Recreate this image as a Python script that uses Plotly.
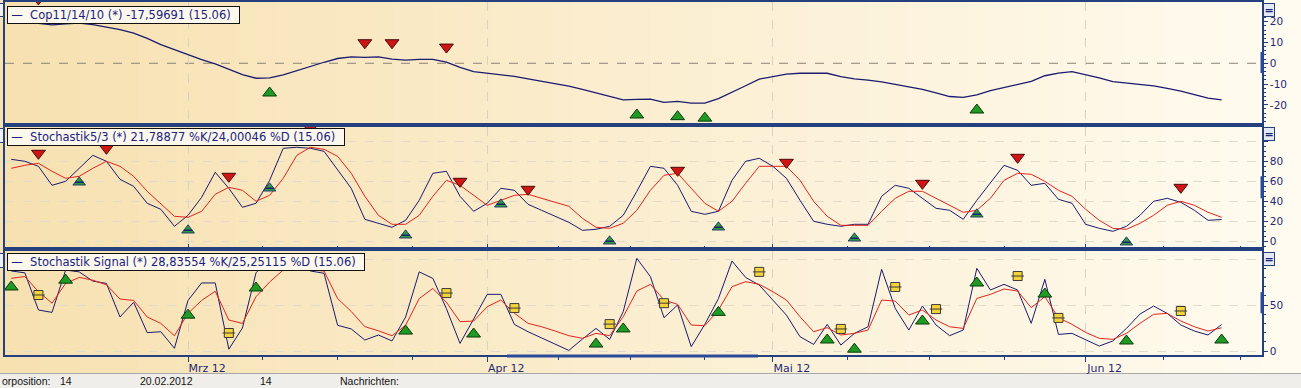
import plotly.graph_objects as go
import pandas as pd

# ---------------- data ----------------
days = pd.bdate_range("2012-02-13", "2012-06-15")  # trading days (x categories)

cop = ([None, None, 19.2, 18.5, 19.0, 19.4, 18.6, 17.5, 16.2, 14.5, 12.0, 9.0, 6.5]
       + [4.0, 1.8, -0.3, -3.0, -5.5, -7.2, -7.0, -5.6, -3.5, -1.4, 0.5, 2.3, 3.1, 2.8, 3.1, 2.0, 1.5, 1.9, 1.9, 0.6, -2.0, -4.0]
       + [-4.8, -5.7, -6.3, -7.5, -8.6, -9.7, -11.0, -12.6, -14.2, -16.0, -17.6, -17.4, -17.3, -18.8, -18.3, -19.2, -19.2, -17.0, -14.0, -10.8, -7.6]
       + [-6.5, -5.2, -4.8, -4.8, -4.8, -6.4, -7.5, -8.1, -8.9, -10.1, -11.3, -12.6, -14.3, -16.0, -16.4, -15.2, -13.2, -11.6, -10.3, -8.7, -6.0, -4.7, -4.0]
       + [-5.4, -7.0, -8.8, -9.6, -10.3, -10.9, -12.1, -13.4, -15.1, -16.8, -17.6])

stoch_k = ([82, 80, 75, 56, 60, 73, 86, 80, 62, 55, 38, 32, 15]
           + [26, 44, 69, 53, 34, 38, 61, 93, 94, 93, 90, 71, 53, 22, 18, 14, 21, 41, 68, 70, 45, 30]
           + [38, 53, 51, 37, 31, 25, 19, 11, 12, 15, 26, 50, 75, 73, 56, 30, 27, 30, 61, 80, 83]
           + [75, 63, 41, 20, 17, 15, 17, 17, 45, 56, 53, 43, 33, 31, 22, 41, 58, 76, 71, 56, 58, 42, 38]
           + [17, 13, 10, 15, 26, 40, 43, 39, 31, 21, 21.8])

stoch_d = ([73, 76, 78, 70, 63, 65, 73, 80, 75, 65, 50, 38, 25]
           + [24, 30, 47, 54, 51, 40, 46, 63, 86, 94, 92, 85, 68, 45, 26, 17, 17, 26, 45, 61, 56, 46]
           + [36, 41, 46, 47, 43, 39, 35, 23, 14, 13, 18, 31, 51, 66, 68, 53, 38, 30, 40, 58, 75]
           + [75, 75, 61, 40, 25, 16, 16, 16, 30, 43, 50, 50, 43, 36, 29, 31, 43, 61, 68, 67, 60, 51, 45]
           + [32, 21, 13, 12, 18, 26, 36, 40, 36, 29, 24.0])

signal_k = ([87, 85, 44.6, 42, 88, 86, 76, 73.5, 37, 53, 20, 21, 3]
            + [55, 74, 74, 2, 25, 85, 100, 100, 97, 87, 84.5, 28, 24, 12, 17.4, 11, 37, 86, 79, 46, 8.3, 34.8]
            + [61.6, 61.6, 28.9, 21, 14.5, 7.2, 0.7, 13, 24.6, 12.7, 42.8, 100.7, 80.8, 36.2, 50, 4.7, 29, 57, 97.8, 80, 71.7]
            + [55.4, 39, 15.6, 7.2, 29, 6.5, 19.2, 26.4, 88.8, 46.4, 22.8, 48.9, 28.3, 16.7, 22.8, 89.9, 66.3, 72.5, 66.3, 30.1, 77.9, 18.1, 19.2]
            + [12, 5.4, 10.9, 24.6, 40.2, 48.9, 40.9, 28.3, 21.7, 17.4, 28.8])

signal_d = ([79, 81, 64.5, 52, 73.5, 80, 77, 72, 56.5, 55, 37, 30, 16.6]
            + [41, 55, 65, 33.7, 30, 59, 75, 88, 95, 88, 87, 57, 43, 26.5, 22, 16.6, 28, 57, 68, 53, 31.9, 32.6]
            + [48.2, 55.4, 41, 30.1, 26.4, 21.7, 16.7, 13.8, 19.2, 16.7, 37.3, 65.2, 72.5, 55.4, 50.7, 28.3, 27.5, 44.6, 69.9, 75.4, 72.5]
            + [64.5, 55.4, 37.3, 21, 25.4, 17.4, 19.2, 22.8, 55.4, 54.3, 39.1, 44.6, 33.7, 26.4, 24.6, 57.2, 61.6, 67.4, 65.2, 47.1, 59.1, 36.2, 29]
            + [20.3, 13.8, 12.7, 19.2, 30.1, 39.9, 40.9, 32.6, 26.4, 21.7, 25.3])

cop_buy_dates = ["2012-03-09", "2012-04-17", "2012-04-20", "2012-04-24", "2012-05-22"]
cop_buy_vals = [-14.3, -24.9, -25.7, -26.4, -22.5]
cop_sell_dates = ["2012-02-15", "2012-03-20", "2012-03-22", "2012-03-28"]
cop_sell_vals = [31.0, 9.9, 9.9, 7.8]

stoch_sell_dates = ["2012-02-15", "2012-02-22", "2012-03-06", "2012-03-14", "2012-03-29", "2012-04-05",
                    "2012-04-20", "2012-05-02", "2012-05-16", "2012-05-25", "2012-06-12"]
stoch_sell_vals = [88, 93, 65, 113, 60, 52, 71, 79, 58, 84, 54]
stoch_buy_dates = ["2012-02-20", "2012-03-01", "2012-03-09", "2012-03-23", "2012-04-03", "2012-04-13",
                   "2012-04-25", "2012-05-09", "2012-05-22", "2012-06-06"]
stoch_buy_vals = [59, 11, 53, 6, 37, 0, 14, 3, 27, -1]

signal_buy_dates = ["2012-02-13", "2012-02-17", "2012-03-01", "2012-03-08", "2012-03-23", "2012-03-30",
                    "2012-04-12", "2012-04-16", "2012-04-25", "2012-05-07", "2012-05-09", "2012-05-16",
                    "2012-05-22", "2012-05-29", "2012-06-06", "2012-06-15"]
signal_buy_vals = [69.6, 77, 39, 68.5, 21.7, 18.5, 7.6, 24, 42, 12, 2, 32.6, 73.9, 61.9, 10.9, 12]
signal_flat_dates = ["2012-02-15", "2012-03-06", "2012-03-28", "2012-04-04", "2012-04-13", "2012-04-19",
                     "2012-04-30", "2012-05-08", "2012-05-14", "2012-05-17", "2012-05-25", "2012-05-30",
                     "2012-06-12"]
signal_flat_vals = [60.9, 19.6, 63, 46.7, 29.3, 52, 86, 24, 69.6, 45.6, 81.5, 36, 43.5]

month_ticks = ["2012-03-01", "2012-04-02", "2012-05-01", "2012-06-01"]
month_labels = ["Mrz 12", "Apr 12", "Mai 12", "Jun 12"]
week_ticks = ["2012-03-08 12:00", "2012-03-16", "2012-03-23 12:00", "2012-04-09 06:00", "2012-04-16 12:00",
              "2012-04-24", "2012-05-08 12:00", "2012-05-16 12:00", "2012-05-24", "2012-06-08 18:00",
              "2012-06-18 10:00"]

cop_ticks = [-20, -10, 0, 10, 20]
cop_labels = ["-20", "-10", "0", "10", "20"]
stoch_ticks = [0, 20, 40, 60, 80, 100]
stoch_labels = ["0", "20", "40", "60", "80", ""]
signal_ticks = [0, 50, 100]
signal_labels = ["0", "50", ""]

legend1 = "Cop11/14/10 (*) -17,59691 (15.06)"
legend2 = "Stochastik5/3 (*) 21,78877 %K/24,00046 %D (15.06)"
legend3 = "Stochastik Signal (*) 28,83554 %K/25,25115 %D (15.06)"

# ---------------- layout helpers ----------------
W, H = 1301, 388
L, R, T, B = 5, 39, 2, 33


def px_x(px):
    return (px - L) / (W - L - R)


def px_y(py):
    return (H - B - py) / (H - T - B)


NAVY = "#1B1B70"
RED = "#E3241C"
AXC = "#25407F"
TXT = "#1E2A78"
FONT = "DejaVu Sans"

fig = go.Figure()


def add_line(y, color, yaxis, width=1.0):
    fig.add_trace(go.Scatter(x=days, y=y, mode="lines", xaxis="x", yaxis=yaxis,
                             line=dict(color=color, width=width), hoverinfo="skip"))


def add_marks(x, y, yaxis, symbol, size, color, lcolor, lwidth):
    fig.add_trace(go.Scatter(x=x, y=y, mode="markers", xaxis="x", yaxis=yaxis,
                             marker=dict(symbol=symbol, size=size, color=color,
                                         line=dict(color=lcolor, width=lwidth)),
                             hoverinfo="skip"))


add_line(cop, NAVY, "y", 1.3)
add_line(stoch_k, NAVY, "y2")
add_line(stoch_d, RED, "y2")
add_line(signal_k, NAVY, "y3")
add_line(signal_d, RED, "y3")

# panel 1 signals
add_marks(cop_buy_dates, cop_buy_vals, "y", "triangle-up", 12, "#1F9A24", "#0B3A0B", 1)
add_marks(cop_sell_dates, cop_sell_vals, "y", "triangle-down", 12, "#D01515", "#4A0808", 1)
# panel 2 signals
add_marks(stoch_sell_dates, stoch_sell_vals, "y2", "triangle-down", 12, "#D01515", "#4A0808", 1)
add_marks(stoch_buy_dates, stoch_buy_vals, "y2", "triangle-up", 11, "#2F9A3A", "#1A2372", 0.8)
add_marks(stoch_buy_dates, stoch_buy_vals, "y2", "line-ew", 6, "#1A2372", "#1A2372", 1.6)
# panel 3 signals
add_marks(signal_buy_dates, signal_buy_vals, "y3", "triangle-up", 12, "#1F9A24", "#0B3A0B", 1)
add_marks(signal_flat_dates, signal_flat_vals, "y3", "square", 9, "#F4D43A", "#3A3A3A", 1)
add_marks(signal_flat_dates, signal_flat_vals, "y3", "line-ew", 9, "#3A3A3A", "#3A3A3A", 1)

# ---------------- shapes ----------------
shapes = []
n = 66
c0 = (247, 225, 177)
c1 = (255, 251, 240)
for k in range(n):
    t = k / (n - 1)
    col = tuple(round(a + (b - a) * t) for a, b in zip(c0, c1))
    shapes.append(dict(type="rect", xref="paper", yref="paper",
                       x0=px_x(k * W / n), x1=px_x((k + 1) * W / n + 0.6),
                       y0=px_y(373.5), y1=px_y(0),
                       fillcolor="rgb(%d,%d,%d)" % col, line=dict(width=0), layer="below"))
# status bar
shapes.append(dict(type="rect", xref="paper", yref="paper", x0=px_x(0), x1=px_x(W),
                   y0=px_y(H), y1=px_y(373.5), fillcolor="#EFEEEB", line=dict(width=0), layer="below"))
shapes.append(dict(type="line", xref="paper", yref="paper", x0=px_x(0), x1=px_x(W),
                   y0=px_y(373.5), y1=px_y(373.5), line=dict(color="#A8A8A8", width=1), layer="below"))
# zero line in panel 1
shapes.append(dict(type="line", xref="paper", yref="y", x0=0, x1=1, y0=0, y1=0,
                   line=dict(color="#8A8276", width=1, dash="dash"), layer="below"))
# thicker value indicators on the right axes
shapes.append(dict(type="line", xref="paper", yref="y", x0=1, x1=1, y0=5.4, y1=-4.7,
                   line=dict(color="#2A4A9A", width=3)))
shapes.append(dict(type="line", xref="paper", yref="y2", x0=1, x1=1, y0=65, y1=43,
                   line=dict(color="#2A4A9A", width=3)))
shapes.append(dict(type="line", xref="paper", yref="y3", x0=1, x1=1, y0=64, y1=41,
                   line=dict(color="#2A4A9A", width=3)))
shapes.append(dict(type="line", xref="paper", yref="paper", x0=px_x(507), x1=px_x(758),
                   y0=px_y(356), y1=px_y(356), line=dict(color="#2A4A9A", width=3)))
# small button stubs at the left edge
for top, bot in [(3.5, 16.5), (128.5, 142.5), (253.5, 267.5)]:
    shapes.append(dict(type="rect", xref="paper", yref="paper", x0=px_x(-6), x1=px_x(3.5),
                       y0=px_y(bot), y1=px_y(top), fillcolor="#EEF0F5",
                       line=dict(color=AXC, width=1)))

# ---------------- annotations ----------------
ann = []
for txt, top in [(legend1, 5.5), (legend2, 128), (legend3, 253)]:
    ann.append(dict(x=px_x(6.5), y=px_y(top), xref="paper", yref="paper", xanchor="left", yanchor="top",
                    text="\u2009—\u00a0\u00a0" + txt + "\u00a0\u00a0", showarrow=False,
                    font=dict(family=FONT, size=11.5, color="#1A2380"),
                    bgcolor="#FCF8EE", bordercolor="#111111", borderwidth=1, borderpad=1))
for top in [3, 127, 252]:
    ann.append(dict(x=px_x(1263), y=px_y(top), xref="paper", yref="paper", xanchor="left", yanchor="top",
                    text="<b>=</b>", showarrow=False, font=dict(family=FONT, size=11, color="#1A2380"),
                    bgcolor="#E4E8F0", bordercolor=AXC, borderwidth=1, borderpad=0, width=10, height=12))
for txt, x in [("orposition:", 0), ("14", 58), ("20.02.2012", 138), ("14", 258), ("Nachrichten:", 338)]:
    ann.append(dict(x=px_x(x), y=px_y(381), xref="paper", yref="paper", xanchor="left", yanchor="middle",
                    text=txt, showarrow=False, font=dict(family="Liberation Sans", size=10.5, color="#111111")))

tickfont = dict(family=FONT, size=10.5, color=TXT)


def yax(domain, rng, tv, tt, minor_dtick, grid):
    return dict(domain=domain, range=rng, side="right", anchor="x", tickmode="array",
                tickvals=tv, ticktext=tt, ticks="outside", ticklen=4, tickcolor=AXC,
                showline=True, linecolor=AXC, linewidth=1.5, mirror=True, zeroline=False,
                showgrid=grid, gridcolor="#E2DACB", griddash="dash", gridwidth=1,
                tickfont=tickfont, fixedrange=True, automargin=False,
                minor=dict(tickmode="linear", tick0=0, dtick=minor_dtick, ticks="outside",
                           ticklen=2, tickcolor=AXC, showgrid=False))


fig.update_layout(
    width=W, height=H, autosize=False,
    margin=dict(l=L, r=R, t=T, b=B, pad=0, autoexpand=False),
    paper_bgcolor="#FFFAF0", plot_bgcolor="rgba(0,0,0,0)",
    showlegend=False,
    xaxis=dict(type="date", range=["2012-02-10 13:00", "2012-06-19 23:15"],
               rangebreaks=[dict(bounds=["sat", "mon"])], domain=[0, 1], anchor="y3",
               tickmode="array", tickvals=month_ticks, ticktext=month_labels,
               ticks="outside", ticklen=5, tickcolor=AXC,
               showgrid=True, gridcolor="#D9D1C2", griddash="dash", gridwidth=1,
               showline=True, linecolor=AXC, linewidth=1.5, mirror="all", zeroline=False,
               tickfont=dict(family=FONT, size=11, color=TXT), ticklabelshift=19,
               ticklabelstandoff=-3,
               fixedrange=True, automargin=False,
               minor=dict(tickmode="array", tickvals=week_ticks, ticks="outside", ticklen=3,
                          tickcolor=AXC, showgrid=False)),
    yaxis=yax([px_y(122.7), px_y(2)], [-28.6, 29.5], cop_ticks, cop_labels, 2, False),
    yaxis2=yax([px_y(246.7), px_y(127)], [-5.4, 114.3], stoch_ticks, stoch_labels, 5, True),
    yaxis3=yax([px_y(355), px_y(251)], [-4.3, 108.7], signal_ticks, signal_labels, 10, True),
    shapes=shapes,
    annotations=ann,
)

fig.write_html("out.html", config={"displayModeBar": False},
               post_script="document.body.style.margin='0';document.body.style.overflow='hidden';")
